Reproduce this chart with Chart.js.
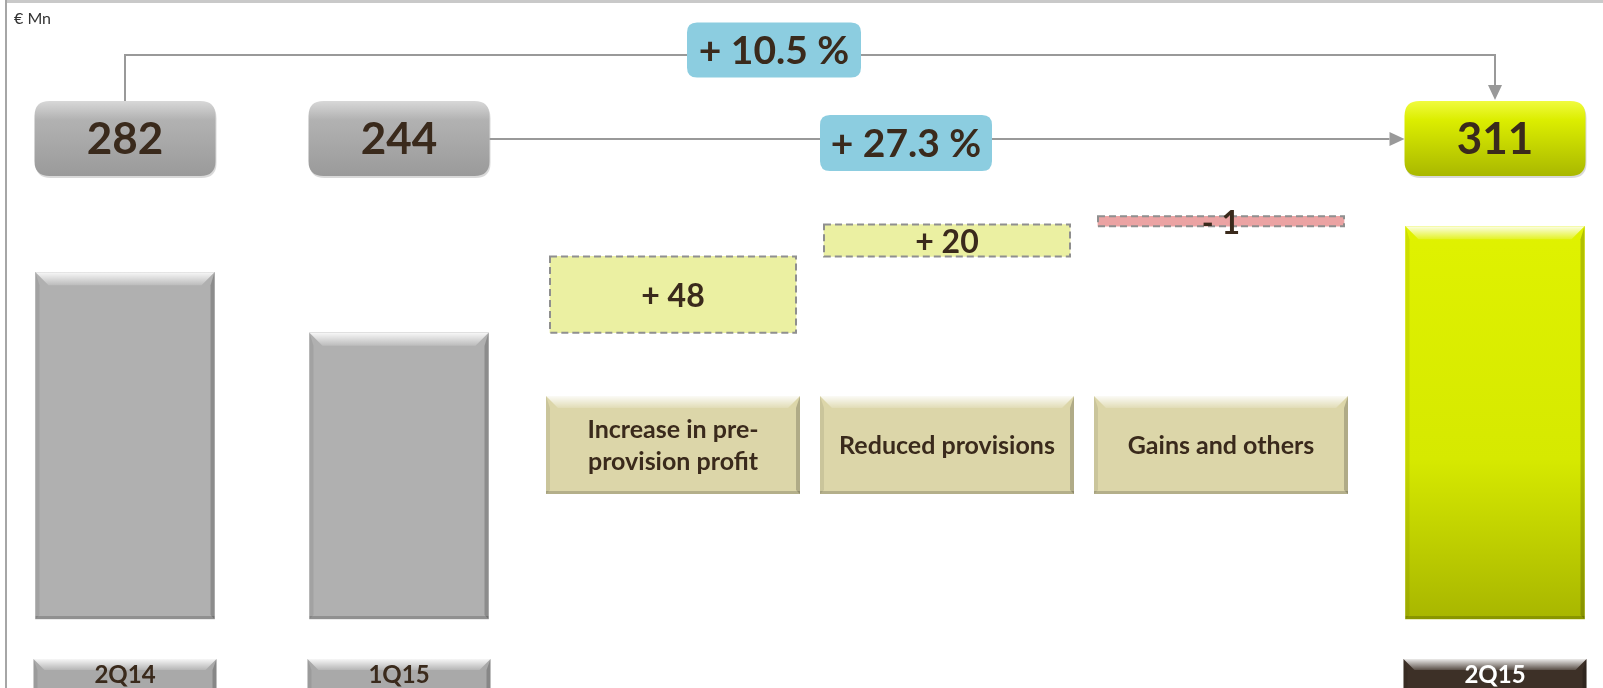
<!DOCTYPE html>
<html>
<head>
<meta charset="utf-8">
<script src="https://cdn.jsdelivr.net/npm/chart.js@4.4.0/dist/chart.umd.min.js"></script>
<style>
  html, body { margin: 0; padding: 0; background: #fff; }
  #wrap { width: 1603px; height: 688px; }
</style>
</head>
<body>
<div id="wrap"><canvas id="bridge" width="1603" height="688"></canvas></div>
<script>
// data
const categories = ['2Q14', '1Q15', ['Increase in pre-', 'provision profit'], 'Reduced provisions', 'Gains and others', '2Q15'];
const totals = [282, 244, null, null, null, 311];
const changes = [null, null, 48, 20, -1, null];
const growthLabels = ['+ 10.5 %', '+ 27.3 %'];
const unitLabel = '€ Mn';

// axis is not zero based in the slide, bars start at the axis floor
const axisMin = 64;
const axisMax = 330;

// waterfall ranges built from the 1Q15 total
let running = totals[1];
const changeRanges = changes.map(c => {
    if (c === null) return null;
    const r = [running, running + c];
    running += c;
    return r;
});

const FONT = 'Lato, "Noto Sans", sans-serif';
const TEXT = '#3a2a1c';

function roundRect(ctx, x, y, w, h, r) {
    ctx.beginPath();
    ctx.moveTo(x + r, y);
    ctx.lineTo(x + w - r, y);
    ctx.quadraticCurveTo(x + w, y, x + w, y + r);
    ctx.lineTo(x + w, y + h - r);
    ctx.quadraticCurveTo(x + w, y + h, x + w - r, y + h);
    ctx.lineTo(x + r, y + h);
    ctx.quadraticCurveTo(x, y + h, x, y + h - r);
    ctx.lineTo(x, y + r);
    ctx.quadraticCurveTo(x, y, x + r, y);
    ctx.closePath();
}

function bevel(ctx, l, t, r, b, s) {
    let g = ctx.createLinearGradient(0, t, 0, t + s);
    g.addColorStop(0, 'rgba(255,255,255,0.9)');
    g.addColorStop(1, 'rgba(255,255,255,0.15)');
    ctx.fillStyle = g;
    ctx.beginPath();
    ctx.moveTo(l, t); ctx.lineTo(r, t); ctx.lineTo(r - s, t + s); ctx.lineTo(l + s, t + s);
    ctx.closePath(); ctx.fill();
    ctx.fillStyle = 'rgba(0,0,0,0.08)';
    ctx.beginPath();
    ctx.moveTo(l, t); ctx.lineTo(l + 4, t + s); ctx.lineTo(l + 4, b - 4); ctx.lineTo(l, b);
    ctx.closePath(); ctx.fill();
    ctx.fillStyle = 'rgba(0,0,0,0.20)';
    ctx.beginPath();
    ctx.moveTo(r, t); ctx.lineTo(r - 4, t + s); ctx.lineTo(r - 4, b - 4); ctx.lineTo(r, b);
    ctx.closePath(); ctx.fill();
    ctx.fillStyle = 'rgba(0,0,0,0.18)';
    ctx.fillRect(l, b - 3, r - l, 3);
}

function arrow(ctx, x, y, dir) {
    ctx.beginPath();
    if (dir === 'down') {
        ctx.moveTo(x, y); ctx.lineTo(x - 7, y - 15); ctx.lineTo(x + 7, y - 15);
    } else {
        ctx.moveTo(x, y); ctx.lineTo(x - 15, y - 7); ctx.lineTo(x - 15, y + 7);
    }
    ctx.closePath();
    ctx.fill();
}

function growthBox(ctx, cx, cy, w, h, label) {
    ctx.fillStyle = '#8ccde0';
    roundRect(ctx, cx - w / 2, cy - h / 2, w, h, 10);
    ctx.fill();
    ctx.fillStyle = TEXT;
    ctx.font = 'bold 39px ' + FONT;
    ctx.textAlign = 'center';
    ctx.textBaseline = 'middle';
    ctx.fillText(label, cx, cy + 1);
}

const decorations = {
    id: 'decorations',
    beforeDraw(chart) {
        const ctx = chart.ctx;
        ctx.save();
        ctx.fillStyle = '#c9c9c9';
        ctx.fillRect(5, 0, chart.width - 5, 3);
        ctx.fillStyle = '#a6a6a6';
        ctx.fillRect(5, 0, 2, chart.height);
        ctx.fillStyle = '#333';
        ctx.font = '16px ' + FONT;
        ctx.textAlign = 'left';
        ctx.textBaseline = 'middle';
        ctx.fillText(unitLabel, 14, 19);
        ctx.restore();
    },
    afterDatasetsDraw(chart) {
        const ctx = chart.ctx;
        const x = chart.scales.x;
        const totMeta = chart.getDatasetMeta(0);
        const chgMeta = chart.getDatasetMeta(1);
        ctx.save();

        // bevels on total bars
        totals.forEach((v, i) => {
            if (v === null) return;
            const el = totMeta.data[i];
            bevel(ctx, el.x - el.width / 2, el.y, el.x + el.width / 2, el.base, 13);
        });

        // dashed outlines and value labels on change bars
        changes.forEach((v, i) => {
            if (v === null) return;
            const el = chgMeta.data[i];
            const top = Math.min(el.y, el.base), bot = Math.max(el.y, el.base);
            ctx.strokeStyle = '#8f8f8f';
            ctx.lineWidth = 2;
            ctx.setLineDash([7, 4]);
            ctx.strokeRect(el.x - el.width / 2, top, el.width, bot - top);
            ctx.setLineDash([]);
            ctx.fillStyle = TEXT;
            ctx.font = 'bold 32px ' + FONT;
            ctx.textAlign = 'center';
            ctx.textBaseline = 'middle';
            const txt = (v > 0 ? '+ ' : '- ') + Math.abs(v);
            ctx.fillText(txt, el.x, (top + bot) / 2 + 2);
        });

        // value boxes above totals
        totals.forEach((v, i) => {
            if (v === null) return;
            const el = totMeta.data[i];
            const w = el.width + 2, l = el.x - w / 2, t = 101, h = 75;
            const g = ctx.createLinearGradient(0, t, 0, t + h);
            if (i === totals.length - 1) {
                g.addColorStop(0, '#f0fb40');
                g.addColorStop(0.25, '#dcee00');
                g.addColorStop(1, '#a9b800');
            } else {
                g.addColorStop(0, '#d8d8d8');
                g.addColorStop(0.25, '#b2b2b2');
                g.addColorStop(1, '#9a9a9a');
            }
            ctx.fillStyle = 'rgba(0,0,0,0.15)';
            roundRect(ctx, l + 1, t + 2, w, h, 15);
            ctx.fill();
            ctx.fillStyle = g;
            roundRect(ctx, l, t, w, h, 15);
            ctx.fill();
            ctx.fillStyle = TEXT;
            ctx.font = 'bold 44px ' + FONT;
            ctx.textAlign = 'center';
            ctx.textBaseline = 'middle';
            ctx.fillText(String(v), el.x, t + h / 2 + 1);
        });

        // category boxes for the change steps
        changes.forEach((v, i) => {
            if (v === null) return;
            const cx = x.getPixelForValue(i);
            const w = 254, l = cx - w / 2, t = 396, b = 494;
            ctx.fillStyle = '#dcd6a9';
            ctx.fillRect(l, t, w, b - t);
            bevel(ctx, l, t, l + w, b, 12);
            const lines = Array.isArray(categories[i]) ? categories[i] : [categories[i]];
            ctx.fillStyle = TEXT;
            ctx.font = 'bold 25px ' + FONT;
            ctx.textAlign = 'center';
            ctx.textBaseline = 'middle';
            const mid = (t + b) / 2 + 1, lh = 32;
            lines.forEach((s, k) => ctx.fillText(s, cx, mid + (k - (lines.length - 1) / 2) * lh));
        });

        // period labels under totals
        totals.forEach((v, i) => {
            if (v === null) return;
            const el = totMeta.data[i];
            const w = el.width + 4, l = el.x - w / 2, t = 659, b = 700;
            const last = i === totals.length - 1;
            ctx.fillStyle = last ? '#3d3027' : '#a9a9a9';
            ctx.fillRect(l, t, w, b - t);
            bevel(ctx, l, t, l + w, b, 11);
            ctx.fillStyle = last ? '#ffffff' : TEXT;
            ctx.font = 'bold 24px ' + FONT;
            ctx.textAlign = 'center';
            ctx.textBaseline = 'middle';
            ctx.fillText(categories[i], el.x, 675);
        });

        // growth connectors
        const first = totMeta.data[0], prev = totMeta.data[1], cur = totMeta.data[totals.length - 1];
        ctx.strokeStyle = '#999999';
        ctx.fillStyle = '#999999';
        ctx.lineWidth = 2;
        ctx.beginPath();
        ctx.moveTo(first.x, 101);
        ctx.lineTo(first.x, 55);
        ctx.lineTo(cur.x, 55);
        ctx.lineTo(cur.x, 86);
        ctx.stroke();
        arrow(ctx, cur.x, 100, 'down');

        const y2 = 139;
        ctx.beginPath();
        ctx.moveTo(prev.x + prev.width / 2 + 1, y2);
        ctx.lineTo(cur.x - cur.width / 2 - 16, y2);
        ctx.stroke();
        arrow(ctx, cur.x - cur.width / 2 - 1, y2, 'right');

        growthBox(ctx, 774, 50, 174, 55, growthLabels[0]);
        growthBox(ctx, 906, 143, 172, 56, growthLabels[1]);

        ctx.restore();
    }
};

const ctx = document.getElementById('bridge').getContext('2d');
new Chart(ctx, {
    type: 'bar',
    data: {
        labels: categories,
        datasets: [{
            label: 'Total',
            data: totals,
            base: axisMin,
            grouped: false,
            clip: false,
            barThickness: 179,
            backgroundColor: (c) => {
                if (c.dataIndex !== totals.length - 1) return '#b0b0b0';
                const area = c.chart.chartArea;
                if (!area) return '#d8ec00';
                const g = c.chart.ctx.createLinearGradient(0, 220, 0, area.bottom);
                g.addColorStop(0, '#e0f200');
                g.addColorStop(0.6, '#d6e900');
                g.addColorStop(1, '#a8b600');
                return g;
            }
        }, {
            label: 'Change',
            data: changeRanges,
            grouped: false,
            clip: false,
            barThickness: 246,
            minBarLength: 10,
            backgroundColor: changes.map(c => c !== null && c < 0 ? '#eba3a3' : '#ebf0a2')
        }]
    },
    options: {
        responsive: false,
        animation: false,
        devicePixelRatio: 1,
        layout: { padding: { left: 125, right: 108, top: 196, bottom: 69 } },
        scales: {
            x: { type: 'category', offset: false, display: false },
            y: { min: axisMin, max: axisMax, display: false }
        },
        plugins: {
            legend: { display: false },
            tooltip: { enabled: false }
        }
    },
    plugins: [decorations]
});
</script>
</body>
</html>
